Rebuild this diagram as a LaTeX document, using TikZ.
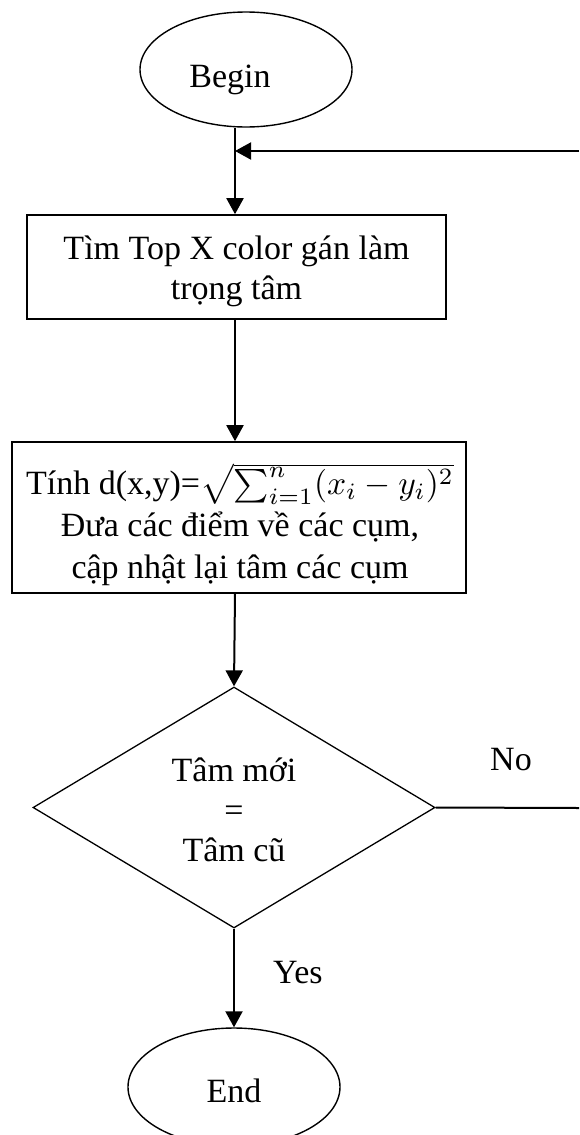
\documentclass[tikz,border=0pt]{standalone}
\usepackage{fontspec}
\setmainfont{Liberation Serif}
\usetikzlibrary{shapes.geometric,arrows.meta}

% distance formula, set at 10pt and enlarged to the text size
\newcommand{\distformula}{\scalebox{3.35}{\fontsize{10}{12}\selectfont
  $\sqrt{\sum_{i=1}^{n}(x_i-y_i)^2}$}}

\begin{document}
\begin{tikzpicture}[x=1pt,y=-1pt,
  every node/.style={font=\fontsize{34}{40}\selectfont},
  process/.style={draw,line width=1.6pt,rectangle,inner sep=0pt},
  terminal/.style={draw,line width=1.4pt,ellipse,inner sep=0pt,minimum width=212pt},
  decision/.style={draw,line width=1.3pt,diamond,inner sep=0pt,
                   minimum width=402pt,minimum height=241pt},
  words/.style={inner sep=0pt,align=center},
  flow/.style={line width=2pt,-{Triangle[length=16pt,width=17pt]}},
  plain/.style={line width=2pt},
  caption/.style={inner sep=0pt,anchor=base west}]

  \useasboundingbox (0,0) rectangle (579,1135);
  \clip (0,0) rectangle (579,1135);

  % main vertical axis of the chart and the right-hand loop-back ends
  \coordinate (axis) at (235,0);
  \coordinate (loopin) at (579,151);
  \coordinate (loopout) at (579,808);
  \coordinate (join) at (235,151);

  % terminals
  \node[terminal,minimum height=115pt] (begin) at (246,69.5) {};
  \node[inner sep=0pt,anchor=base] (begintext) at (230,87) {Begin};

  \node[terminal,minimum height=118pt] (end) at (234,1087) {};
  \node[inner sep=0pt,anchor=base] (endtext) at (234,1102) {End};

  % process steps
  \node[process,minimum width=419pt,minimum height=104pt] (init) at (236.5,267) {};
  \node[words] (inittext) at (236.5,271) {Tìm Top X color gán làm\\trọng tâm};

  \node[process,minimum width=454pt,minimum height=151pt] (assign) at (239,517.5) {};
  \node[words,font=\fontsize{34}{42}\selectfont] (assigntext) at (240,524.5)
    {Tính d(x,y)=\distformula\\
     Đưa các điểm về các cụm,\\cập nhật lại tâm các cụm};

  % convergence test
  \node[decision] (test) at (234,807.5) {};
  \node[words] (testtext) at (234,810) {Tâm mới\\=\\Tâm cũ};

  % connectors
  \draw[flow] (begin.south -| axis) -- (init.north -| axis);
  \draw[flow] (loopin) -- (join);
  \draw[flow] (init.south -| axis) -- (assign.north -| axis);
  \draw[flow] (assign.south -| axis) -- (test.north);
  \draw[flow] (test.south) -- (end.north);
  \draw[plain] (test.east) -- (loopout);

  % branch labels
  \node[caption] (no) at (490,770) {No};
  \node[caption] (yes) at (273,983) {Yes};
\end{tikzpicture}
\end{document}
